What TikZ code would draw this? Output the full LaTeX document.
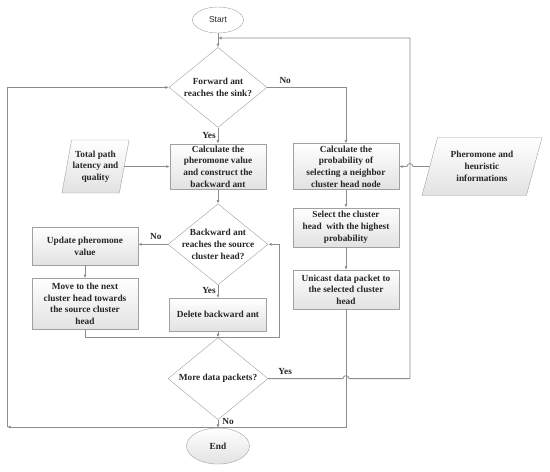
\documentclass[tikz,border=0pt]{standalone}
\usepackage{fontspec}
\setmainfont{Liberation Serif}
\setsansfont{Liberation Sans}
\usetikzlibrary{positioning,arrows.meta,shapes.geometric}
\definecolor{Line}{HTML}{8C8C8C}
\definecolor{Border}{HTML}{A0A0A0}
\definecolor{Shade}{HTML}{E2E2E2}

\begin{document}
\begin{tikzpicture}[x=1pt,y=-1pt, every node/.style={font=\fontsize{9.3}{11.7}\selectfont\bfseries,text=black!85}]
\tikzstyle{box}=[draw=Border,top color=white,bottom color=Shade,minimum width=106pt,minimum height=33pt,inner xsep=2pt,inner ysep=2pt,align=center]
\tikzstyle{decision}=[diamond,draw=Border,fill=white,minimum width=100pt,minimum height=81pt,inner sep=0pt]
\tikzstyle{io}=[trapezium,trapezium stretches body,draw=Border,top color=white,bottom color=Shade,inner sep=1pt,align=center]
\tikzstyle{flow}=[draw=Line,line width=.8pt,-{Latex[length=3.5pt,width=3pt]}]
\useasboundingbox (0,0) rectangle (550,472);
% main column
\node[ellipse,draw=Border,fill=white,minimum width=51pt,minimum height=26pt,font=\sffamily\fontsize{8.5}{10}\selectfont] (start) at (218,20) {Start};
\node[decision,minimum height=80pt,minimum width=98pt,below=14pt of start] (d1) {};
\node[align=center] (d1t) at (d1) {Forward ant\\reaches the sink?};
\node[box,minimum width=96pt,below=16pt of d1] (calc) {Calculate the\\pheromone value\\and construct the\\backward ant};
\node[decision,below=14pt of calc] (d2) {};
\node[align=center] (d2t) at (d2) {Backward ant\\reaches the source\\cluster head?};
\node[box,minimum width=97pt,below=13pt of d2] (del) {Delete backward ant};
\node[decision,minimum height=82pt,below=6pt of del] (d3) {};
\node[align=center] (d3t) at (d3) {More data packets?};
\node[ellipse,draw=Border,top color=white,bottom color=Shade,minimum width=63pt,minimum height=36pt,below=8pt of d3] (end) {End};
% side columns
\node[box] (prob) at (346,166.5) {Calculate the\\probability of\\selecting a neighbor\\cluster head node};
\node[box,minimum height=39pt,below=18pt of prob] (sel) {Select the cluster\\head\ \ with the highest\\probability};
\node[box,minimum height=39pt,below=23pt of sel] (uni) {Unicast data packet to\\the selected cluster\\head};
\node[box,minimum height=38pt] (upd) at (85,246) {Update pheromone\\value};
\node[box,minimum height=51pt,below=13pt of upd] (move) {Move to the next\\cluster head towards\\the source cluster\\head};
\node[io,trapezium left angle=74,trapezium right angle=106,minimum width=65pt,minimum height=53pt] (total) at (95.5,166.5) {Total path\\latency and\\quality};
\node[io,trapezium left angle=64,trapezium right angle=116,minimum width=120pt,minimum height=58pt] (pher) at (482,166.5) {Pheromone and\\heuristic\\informations};
% helper points
\coordinate (top) at (218,38);
\coordinate (rgt) at (410,38);
\coordinate (lft) at (7,427);
\coordinate (mrg) at (279,337);
% labels
\node (no1) at ([xshift=18pt,yshift=7pt]d1.east) {No};
\node (yes1) at ([xshift=-9pt,yshift=-8pt]d1.south) {Yes};
\node (no2) at ([xshift=-12pt,yshift=8pt]d2.west) {No};
\node (yes2) at ([xshift=-9pt,yshift=-5pt]d2.south) {Yes};
\node (yes3) at ([xshift=17pt,yshift=7pt]d3.east) {Yes};
\node (no3) at ([xshift=10pt,yshift=-2pt]d3.south) {No};
% connectors
\draw[flow] (start) -- (d1);
\draw[flow] (d1) -- (calc);
\draw[flow] (calc) -- (d2);
\draw[flow] (d2) -- (del);
\draw[flow] (del) -- (d3);
\draw[flow] (d3) -- (end);
\draw[flow] (d1.east) -| (prob.north);
\draw[flow] (prob) -- (sel);
\draw[flow] (sel) -- (uni);
\draw[flow] (total.east) -- (total.east -| calc.west);
\draw[flow] (pher.west) -- ([xshift=3pt]pher.west -| rgt) arc[start angle=0,end angle=180,radius=3pt] -- (prob.east);
\draw[flow] (d2.west) -- (d2.west -| upd.east);
\draw[flow] (upd) -- (move);
\draw[flow] (move.south) |- (mrg) |- (d2.east);
\draw[flow] (d3.east) -- ([xshift=-3pt]d3.east -| uni.south) arc[start angle=180,end angle=0,radius=3pt] -- (d3.east -| rgt) -- (rgt) -- (top);
\draw[flow] (uni.south) |- (lft);
\draw[flow] (lft) |- (d1.west);
\end{tikzpicture}
\end{document}
